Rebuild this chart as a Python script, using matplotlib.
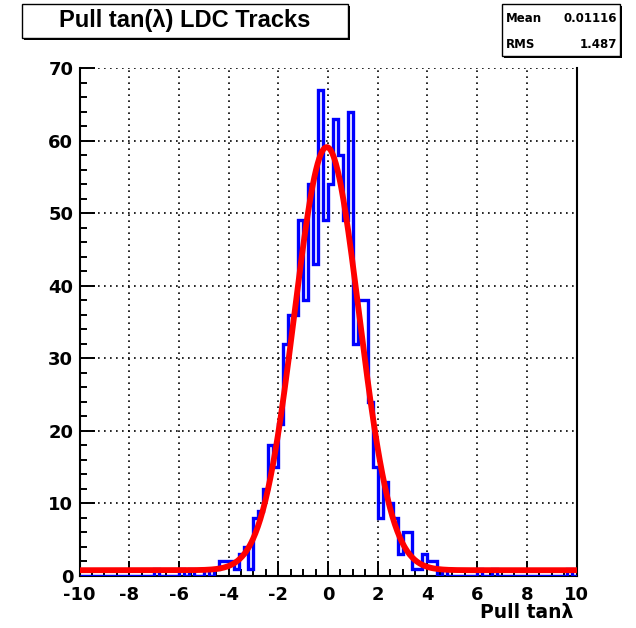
import numpy as np
import matplotlib.pyplot as plt
from matplotlib.patches import Rectangle
from matplotlib.ticker import MultipleLocator

plt.rcParams['font.family'] = 'DejaVu Sans'
plt.rcParams['font.weight'] = 'bold'
plt.rcParams['axes.unicode_minus'] = False

W, H = 636, 628

# histogram: 100 bins of width 0.2 on [-10, 10], only filled bins listed
bin_centers = [-6.9, -5.9, -5.5, -4.9, -4.5, -4.3, -4.1, -3.9, -3.7, -3.5,
               -3.3, -3.1, -2.9, -2.7, -2.5, -2.3, -2.1, -1.9, -1.7, -1.5,
               -1.3, -1.1, -0.9, -0.7, -0.5, -0.3, -0.1, 0.1, 0.3, 0.5,
               0.7, 0.9, 1.1, 1.3, 1.5, 1.7, 1.9, 2.1, 2.3, 2.5,
               2.7, 2.9, 3.1, 3.3, 3.5, 3.7, 3.9, 4.1, 4.3, 4.7,
               6.1, 6.7, 9.7]
bin_counts = [1, 1, 1, 1, 1, 2, 2, 2, 1, 3,
              4, 1, 8, 9, 12, 18, 15, 21, 32, 36,
              36, 49, 38, 54, 43, 67, 49, 54, 63, 58,
              49, 64, 32, 38, 38, 24, 15, 8, 13, 10,
              8, 3, 6, 6, 1, 1, 3, 2, 2, 1,
              1, 1, 1]

# gaus + constant fit result
fit_const = 58.3
fit_mean = -0.05
fit_sigma = 1.3
fit_offset = 0.8

stat_names = ['Mean', 'RMS']
stat_values = ['0.01116', '1.487']
title = 'Pull tan(\u03bb) LDC Tracks'
xlabel = 'Pull tan\u03bb'


def fx(px):
    return px / W


def fy(py):
    return 1 - py / H


edges = np.linspace(-10, 10, 101)
counts = np.zeros(100)
for c, n in zip(bin_centers, bin_counts):
    counts[int(np.floor((c + 10) / 0.2))] = n

xf = np.linspace(-10, 10, 600)
yf = fit_const * np.exp(-0.5 * ((xf - fit_mean) / fit_sigma) ** 2) + fit_offset

fig = plt.figure(figsize=(W / 100, H / 100), dpi=100)
ax = fig.add_axes([fx(79.5), fy(576), fx(576.5) - fx(79.5), fy(68) - fy(576)])

ax.stairs(counts, edges, color=(0, 0, 1), lw=2.4, baseline=0, zorder=3)
ax.plot(xf, yf, color=(1, 0, 0), lw=4.2, zorder=4)

ax.set_xlim(-10, 10)
ax.set_ylim(0, 70)
ax.xaxis.set_major_locator(MultipleLocator(2))
ax.xaxis.set_minor_locator(MultipleLocator(0.5))
ax.yaxis.set_major_locator(MultipleLocator(10))
ax.yaxis.set_minor_locator(MultipleLocator(2))
ax.tick_params(which='both', direction='in', top=False, right=False,
               width=1.4, labelsize=13)
ax.tick_params(axis='x', pad=7)
ax.tick_params(axis='y', pad=4.5)
ax.tick_params(which='major', length=10.5)
ax.tick_params(which='minor', length=5)
for lab in ax.get_xticklabels() + ax.get_yticklabels():
    lab.set_fontweight('bold')
ax.grid(True, which='major', color='black', linestyle=(0, (1, 2.6)), linewidth=1.2)
ax.set_axisbelow(True)

ax.spines['top'].set_visible(False)
for s in ['left', 'bottom', 'right']:
    ax.spines[s].set_linewidth(1.5)

fig.text(fx(573), fy(613), xlabel, ha='right', va='center', fontsize=13.5, fontweight='bold')


def shadow_box(x0, y0, x1, y1):
    # ROOT style pave: black drop shadow then white box with thin border
    fig.add_artist(Rectangle((fx(x0 + 2), fy(y1 + 2)), fx(x1) - fx(x0), fy(y0) - fy(y1),
                             transform=fig.transFigure, facecolor='black', edgecolor='black', lw=0))
    fig.add_artist(Rectangle((fx(x0), fy(y1)), fx(x1) - fx(x0), fy(y0) - fy(y1),
                             transform=fig.transFigure, facecolor='white', edgecolor='black', lw=1))


shadow_box(22, 4, 348, 38)
fig.text(fx(185), fy(21), title, ha='center', va='center', fontsize=17,
         fontweight='bold', family=['Liberation Sans', 'DejaVu Sans'])

shadow_box(502, 4, 620, 56)
for i, (name, val) in enumerate(zip(stat_names, stat_values)):
    yy = fy(18 + i * 26)
    fig.text(fx(506), yy, name, ha='left', va='center', fontsize=8.5, fontweight='bold')
    fig.text(fx(617), yy, val, ha='right', va='center', fontsize=8.5, fontweight='bold')

fig.savefig('out.png', dpi=100, facecolor='white')
